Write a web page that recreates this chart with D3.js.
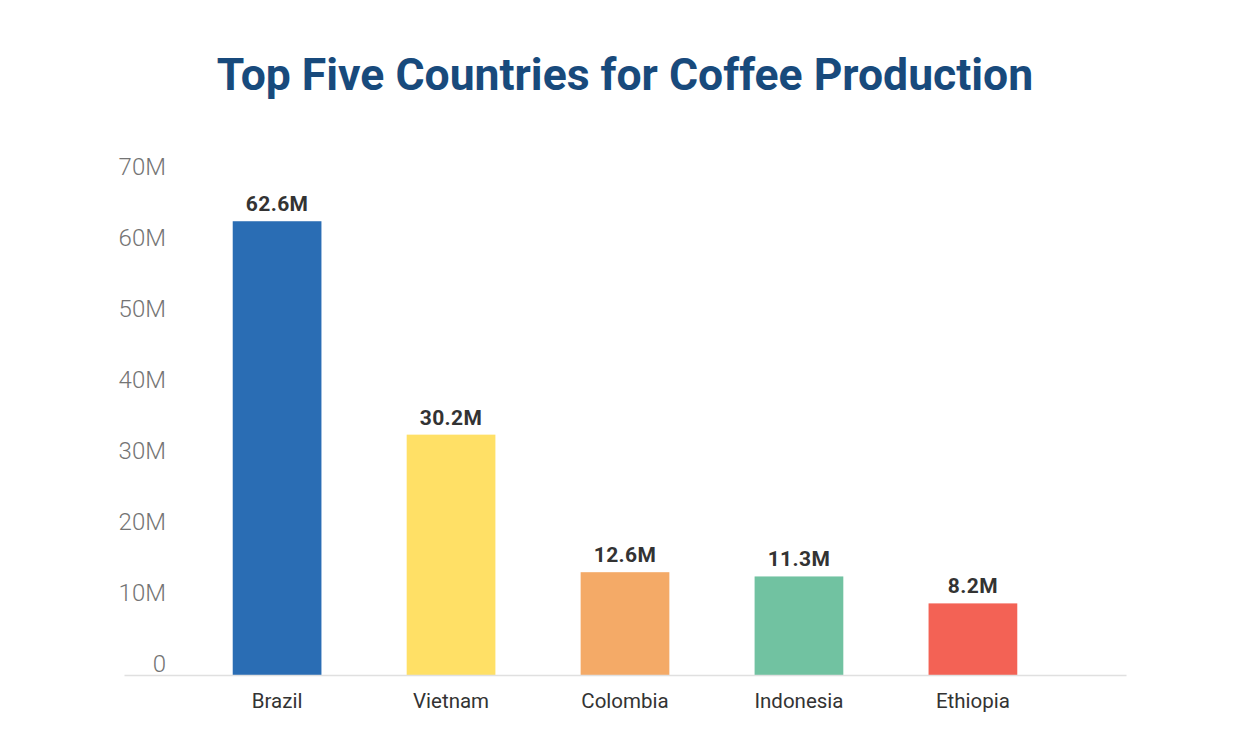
<!DOCTYPE html>
<html>
<head>
<meta charset="utf-8">
<script src="https://cdn.jsdelivr.net/npm/d3@7/dist/d3.min.js"></script>
<style>
  html, body { margin: 0; padding: 0; background: #ffffff; }
  svg { display: block; }
</style>
</head>
<body>
<svg id="chart" width="1250" height="752"></svg>
<script>
// ---- data ----
const countries = ["Brazil", "Vietnam", "Colombia", "Indonesia", "Ethiopia"];
// bar heights as drawn in the reference, read against its axis (millions)
const barValues = [64.0, 33.9, 14.5, 13.9, 10.1];
// value labels printed above the bars
const valueLabels = ["62.6M", "30.2M", "12.6M", "11.3M", "8.2M"];
const barColors = ["#2a6db4", "#ffe066", "#f4aa67", "#71c2a1", "#f36255"];
const yTicks = [0, 10, 20, 30, 40, 50, 60, 70];
const yTickLabels = ["0", "10M", "20M", "30M", "40M", "50M", "60M", "70M"];
const title = "Top Five Countries for Coffee Production";

// ---- layout ----
const svg = d3.select("#chart");
const baseY = 675;
const axisLeft = 124, axisRight = 1126;

const x = d3.scaleBand()
  .domain(countries)
  .range([axisLeft, axisRight])
  .paddingInner(0.49)
  .paddingOuter(0.625);

const y = d3.scaleLinear()
  .domain([0, 70])
  .range([baseY, baseY - 70 * 7.09]);

// title
svg.append("text")
  .attr("x", 625)
  .attr("y", 90)
  .attr("text-anchor", "middle")
  .attr("font-family", "Roboto, sans-serif")
  .attr("font-weight", 700)
  .attr("font-size", 44.5)
  .attr("fill", "#184a7c")
  .text(title);

// y-axis labels (no line, no gridlines)
const yAxis = d3.axisLeft(y)
  .tickValues(yTicks)
  .tickFormat((d, i) => yTickLabels[i])
  .tickSize(0)
  .tickPadding(0);

const gy = svg.append("g")
  .attr("transform", `translate(166,0)`)
  .call(yAxis);
gy.select(".domain").remove();
gy.selectAll("text")
  .attr("font-family", "Roboto, sans-serif")
  .attr("font-weight", 300)
  .attr("font-size", 24)
  .attr("fill", "#747474")
  .attr("dy", "-4px")
  .attr("dominant-baseline", "auto");

// bars
svg.append("g")
  .selectAll("rect")
  .data(barValues)
  .join("rect")
  .attr("x", (d, i) => x(countries[i]))
  .attr("width", x.bandwidth())
  .attr("y", d => y(d))
  .attr("height", d => y(0) - y(d))
  .attr("fill", (d, i) => barColors[i]);

// value labels
svg.append("g")
  .selectAll("text")
  .data(barValues)
  .join("text")
  .attr("x", (d, i) => x(countries[i]) + x.bandwidth() / 2)
  .attr("y", d => y(d) - 10)
  .attr("text-anchor", "middle")
  .attr("font-family", "Roboto, sans-serif")
  .attr("font-weight", 700)
  .attr("font-size", 21)
  .attr("letter-spacing", 0.4)
  .attr("fill", "#333333")
  .text((d, i) => valueLabels[i]);

// x axis baseline + category labels
const xAxis = d3.axisBottom(x).tickSize(0).tickPadding(0);
const gx = svg.append("g")
  .attr("transform", `translate(0,${baseY})`)
  .call(xAxis);
gx.select(".domain")
  .attr("stroke", "#e0e0e0")
  .attr("stroke-width", 1.5);
gx.selectAll("text")
  .attr("font-family", "Roboto, sans-serif")
  .attr("font-weight", 400)
  .attr("font-size", 20.5)
  .attr("fill", "#333333")
  .attr("y", 33)
  .attr("dy", 0);
</script>
</body>
</html>
